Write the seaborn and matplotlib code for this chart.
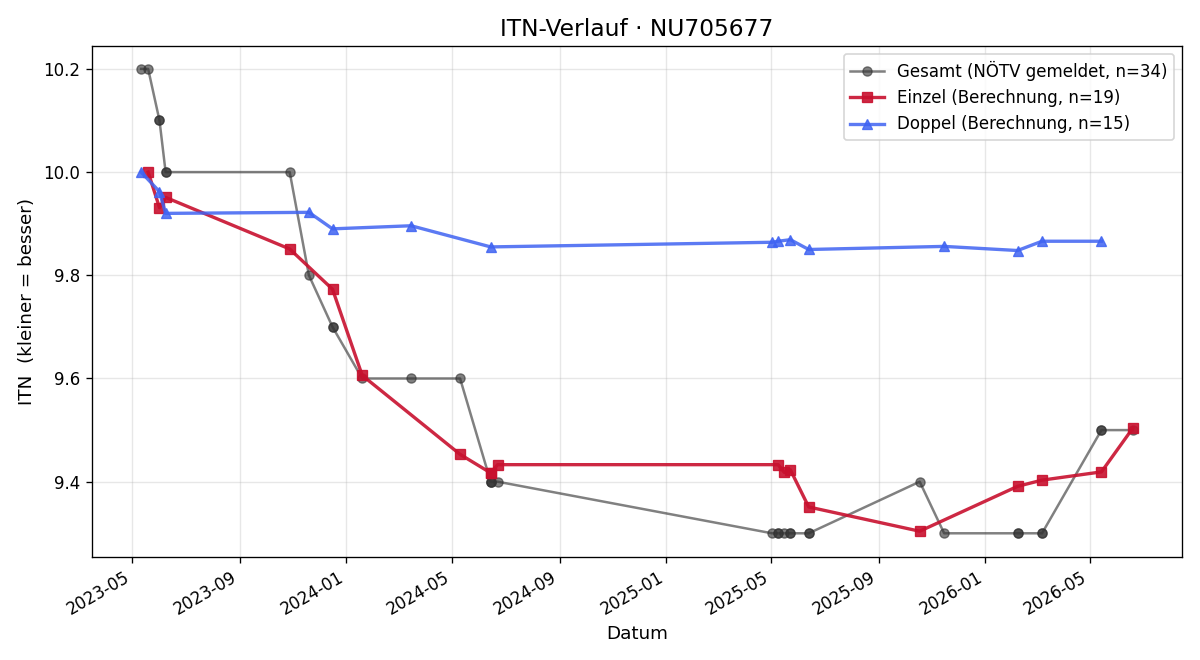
import matplotlib
matplotlib.use("Agg")
import matplotlib.pyplot as plt
import matplotlib.dates as mdates
import pandas as pd
import seaborn as sns

# Gesamt (reported ITN, one row per match)
gesamt_dates = [
    "2023-05-11", "2023-05-19", "2023-06-01", "2023-06-01", "2023-06-08", "2023-06-08",
    "2023-10-28", "2023-11-19", "2023-12-16", "2023-12-16", "2024-01-19", "2024-03-15",
    "2024-05-10", "2024-06-14", "2024-06-14", "2024-06-14", "2024-06-22", "2025-05-02",
    "2025-05-09", "2025-05-09", "2025-05-16", "2025-05-23", "2025-05-23", "2025-06-13",
    "2025-06-13", "2025-10-18", "2025-11-15", "2026-02-07", "2026-02-07", "2026-03-07",
    "2026-03-07", "2026-05-14", "2026-05-14", "2026-06-19",
]
gesamt_itn = [
    10.2, 10.2, 10.1, 10.1, 10.0, 10.0,
    10.0, 9.8, 9.7, 9.7, 9.6, 9.6,
    9.6, 9.4, 9.4, 9.4, 9.4, 9.3,
    9.3, 9.3, 9.3, 9.3, 9.3, 9.3,
    9.3, 9.4, 9.3, 9.3, 9.3, 9.3,
    9.3, 9.5, 9.5, 9.5,
]

# Einzel (computed)
einzel_dates = [
    "2023-05-19", "2023-06-01", "2023-06-08", "2023-10-28", "2023-12-16", "2024-01-19",
    "2024-05-10", "2024-06-14", "2024-06-14", "2024-06-22", "2025-05-09", "2025-05-16",
    "2025-05-23", "2025-06-13", "2025-10-18", "2026-02-07", "2026-03-07", "2026-05-14",
    "2026-06-19",
]
einzel_itn = [
    10.000, 9.931, 9.951, 9.851, 9.773, 9.606,
    9.453, 9.417, 9.417, 9.433, 9.433, 9.418,
    9.423, 9.351, 9.304, 9.391, 9.403, 9.419,
    9.504,
]

# Doppel (computed)
doppel_dates = [
    "2023-05-11", "2023-06-01", "2023-06-08", "2023-11-19", "2023-12-16", "2024-03-15",
    "2024-06-14", "2025-05-02", "2025-05-09", "2025-05-23", "2025-06-13", "2025-11-15",
    "2026-02-07", "2026-03-07", "2026-05-14",
]
doppel_itn = [
    10.000, 9.962, 9.920, 9.922, 9.890, 9.896,
    9.855, 9.864, 9.866, 9.869, 9.850, 9.856,
    9.848, 9.866, 9.866,
]

df_g = pd.DataFrame({"datum": pd.to_datetime(gesamt_dates), "itn": gesamt_itn})
df_e = pd.DataFrame({"datum": pd.to_datetime(einzel_dates), "itn": einzel_itn})
df_d = pd.DataFrame({"datum": pd.to_datetime(doppel_dates), "itn": doppel_itn})

fig, ax = plt.subplots(figsize=(10, 5.5), dpi=120)

series = [
    (df_g, "#333333", 0.62, 1.5, "o", 5.5, f"Gesamt (NÖTV gemeldet, n={len(df_g)})"),
    (df_e, "#c8102e", 0.9, 2.0, "s", 6.5, f"Einzel (Berechnung, n={len(df_e)})"),
    (df_d, "#3f63f2", 0.85, 2.0, "^", 6.5, f"Doppel (Berechnung, n={len(df_d)})"),
]
for df, col, a, lw, mk, ms, lab in series:
    sns.lineplot(data=df, x="datum", y="itn", ax=ax, estimator=None, sort=False,
                 color=col, alpha=a, linewidth=lw, marker=mk, markersize=ms,
                 markeredgecolor=col, markerfacecolor=col, markeredgewidth=0.8,
                 label=lab)

ax.set_title("ITN-Verlauf · NU705677", fontsize=14)
ax.set_xlabel("Datum", fontsize=11)
ax.set_ylabel("ITN  (kleiner = besser)", fontsize=11)
ax.grid(True, alpha=0.3)

ax.xaxis.set_major_locator(mdates.MonthLocator(bymonth=[1, 5, 9]))
ax.xaxis.set_major_formatter(mdates.DateFormatter("%Y-%m"))
fig.autofmt_xdate()

ax.legend(loc="upper right", fontsize=10)
fig.subplots_adjust(left=0.0763, right=0.9854, top=0.9308, bottom=0.1568)
plt.savefig("out.png", dpi=120)
plt.close()
